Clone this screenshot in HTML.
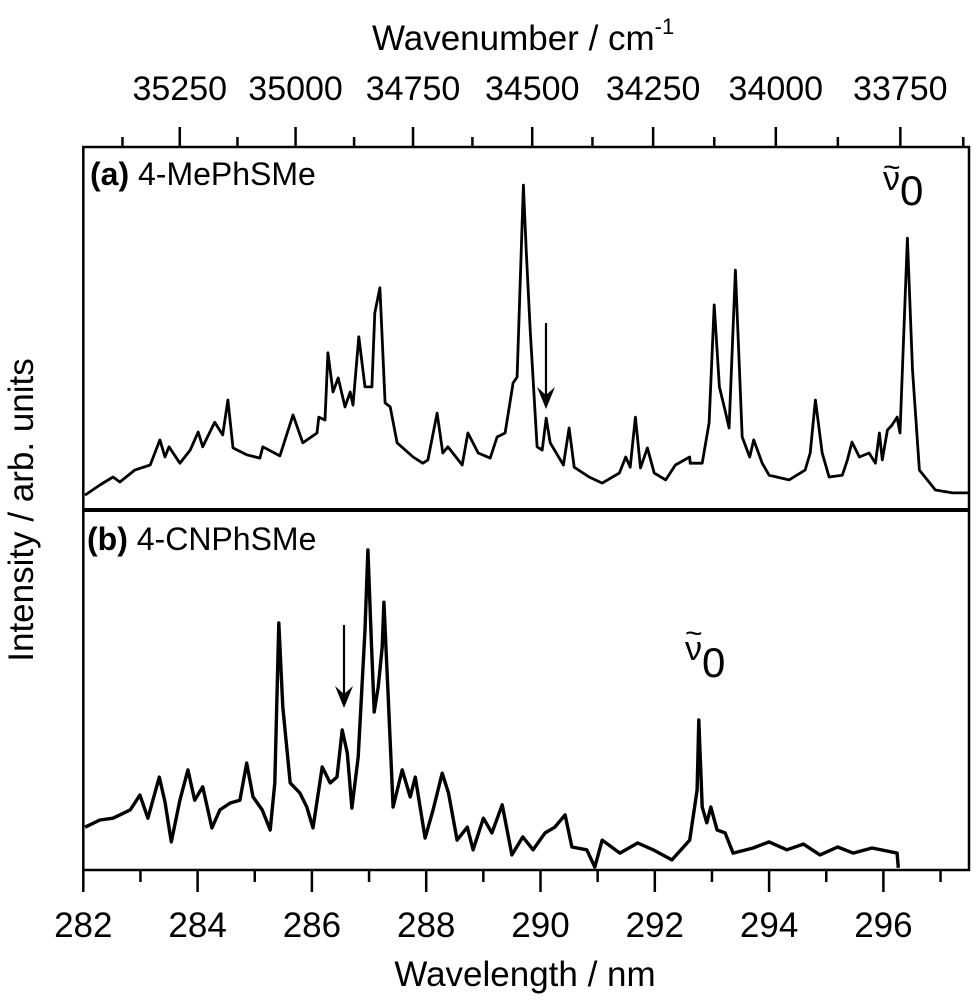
<!DOCTYPE html>
<html><head><meta charset="utf-8"><style>
html,body{margin:0;padding:0;background:#fff;}
svg{display:block;font-family:"Liberation Sans",Arial,sans-serif;}
</style></head><body>
<svg id="chart" width="974" height="1002" viewBox="0 0 974 1002" xmlns="http://www.w3.org/2000/svg">
<g id="axes"></g>
<g id="series"></g>
<text x="372" y="50" font-size="35">Wavenumber / cm<tspan font-size="22" dy="-16">-1</tspan></text>
<text x="525" y="986" font-size="35" text-anchor="middle">Wavelength / nm</text>
<text transform="translate(33,510) rotate(-90)" font-size="35" text-anchor="middle">Intensity / arb. units</text>
<text x="90" y="185" font-size="32"><tspan font-weight="bold">(a)</tspan> 4-MePhSMe</text>
<text x="87" y="550" font-size="32"><tspan font-weight="bold">(b)</tspan> 4-CNPhSMe</text>
<g>
<text x="883" y="177" font-size="30">~</text><text x="883" y="190" font-size="34">ν</text><text x="900" y="205" font-size="42">0</text>
</g>
<g>
<text x="685" y="643" font-size="30">~</text><text x="685" y="660" font-size="34">ν</text><text x="702" y="677" font-size="42">0</text>
</g>
</svg>
<script>
// bottom axis data
const xTicksMajor = [282,284,286,288,290,292,294,296];
const xTicksMinor = [283,285,287,289,291,293,295,297];
const wnTicksMajor = [35250,35000,34750,34500,34250,34000,33750];
const wnTicksMinor = [35375,35125,34875,34625,34375,34125,33875,33625];
// panel (a) 4-MePhSMe
const aWave = [282.03,282.29,282.52,282.64,282.90,283.17,283.34,283.43,283.50,283.69,283.87,284.01,284.09,284.30,284.44,284.53,284.62,284.86,285.09,285.14,285.44,285.67,285.84,286.09,286.12,286.23,286.28,286.37,286.46,286.58,286.67,286.72,286.82,286.93,287.05,287.10,287.19,287.28,287.37,287.49,287.77,287.94,288.03,288.19,288.29,288.38,288.63,288.73,288.91,289.12,289.24,289.38,289.52,289.59,289.70,289.75,289.82,289.94,290.03,290.10,290.17,290.40,290.50,290.59,290.85,291.08,291.38,291.49,291.57,291.66,291.75,291.87,291.99,292.19,292.36,292.61,292.62,292.83,292.95,293.04,293.13,293.22,293.30,293.41,293.53,293.66,293.73,293.88,294.00,294.35,294.63,294.72,294.81,294.93,295.05,295.28,295.37,295.45,295.58,295.75,295.86,295.93,295.98,296.07,296.15,296.24,296.29,296.42,296.51,296.63,296.91,297.21,297.50];
const aInt = [4.1,6.9,9.1,7.7,11.0,12.4,19.3,14.6,17.4,12.9,16.5,21.5,17.4,24.2,20.7,30.3,17.1,15.2,14.3,17.4,14.9,26.2,18.5,21.2,25.6,24.8,43.3,32.5,36.4,28.4,32.5,28.9,47.7,33.9,33.9,54.3,61.2,29.5,28.4,18.5,14.6,12.9,13.8,26.7,15.7,17.4,12.4,21.2,15.7,14.3,20.1,21.2,35.0,36.6,89.5,71.6,49.6,17.4,16.5,25.3,18.5,12.4,22.6,11.8,9.1,7.4,10.2,14.6,11.8,25.6,11.6,17.1,10.2,8.3,12.4,14.6,12.9,12.9,24.0,56.5,33.9,28.1,22.6,66.1,20.1,14.6,19.3,12.9,9.6,8.3,11.0,15.7,30.3,15.7,9.1,9.6,13.8,18.7,14.6,15.7,12.9,21.2,13.8,22.0,23.4,25.6,21.2,74.9,38.6,11.0,5.5,4.7,4.7];
// panel (b) 4-CNPhSMe
const bWave = [282.03,282.29,282.52,282.82,282.99,283.13,283.33,283.43,283.54,283.69,283.83,283.95,284.09,284.25,284.39,284.57,284.74,284.86,284.97,285.13,285.27,285.35,285.42,285.49,285.62,285.79,285.91,286.02,286.18,286.32,286.44,286.53,286.62,286.70,286.81,286.93,286.98,287.04,287.09,287.16,287.23,287.26,287.33,287.42,287.58,287.72,287.81,287.98,288.12,288.28,288.39,288.54,288.72,288.82,289.00,289.15,289.33,289.50,289.69,289.87,289.99,290.08,290.25,290.43,290.55,290.81,290.95,291.08,291.39,291.70,291.97,292.30,292.61,292.74,292.77,292.83,292.91,292.98,293.09,293.23,293.37,293.72,294.00,294.31,294.60,294.89,295.20,295.47,295.80,296.24,296.26];
const bInt = [11.9,13.9,14.4,16.7,20.8,14.4,25.8,18.9,7.8,19.4,27.8,19.4,23.1,11.7,16.7,18.6,19.4,29.7,20.3,16.7,11.1,24.2,68.6,45.3,24.2,21.4,17.5,11.7,28.6,24.2,25.8,38.9,32.5,17.2,31.4,66.7,88.9,63.9,43.9,50.8,61.9,74.4,50.0,17.5,27.8,20.3,25.8,8.9,16.7,26.9,21.4,8.3,11.9,5.6,14.4,10.3,18.1,4.2,9.2,5.6,8.3,10.3,11.9,15.3,6.4,5.6,0.8,8.3,4.7,7.5,5.6,2.8,8.3,22.2,41.7,17.5,13.1,17.5,11.1,10.3,4.7,6.1,7.8,5.6,7.2,4.2,6.4,4.7,6.1,4.7,0.6];

const NS='http://www.w3.org/2000/svg';
const X0=83.3, PX=57.15;
function xs(nm){return X0+(nm-282)*PX;}
function yA(v){return 510-v*3.63;}
function yB(v){return 870-v*3.6;}
function mk(tag,attrs,parent){const e=document.createElementNS(NS,tag);for(const k in attrs)e.setAttribute(k,attrs[k]);parent.appendChild(e);return e;}
const axes=document.getElementById('axes');
const series=document.getElementById('series');

let fr=mk('rect',{x:83.3,y:147,width:885.7,height:723,fill:'none',stroke:'#000','stroke-width':2.5},axes);


let dv=mk('line',{x1:83.3,x2:969,y1:510,y2:510,stroke:'#000','stroke-width':4},axes);



xTicksMajor.forEach(v=>{
  const t=mk('line',{x1:xs(v),x2:xs(v),y1:870,y2:892,stroke:'#000','stroke-width':2.5},axes);
  
  
  const l=mk('text',{x:xs(v),y:937,'font-size':35,'text-anchor':'middle'},axes);
  l.textContent=v;
  
  
});
xTicksMinor.forEach(v=>{
  const t=mk('line',{x1:xs(v),x2:xs(v),y1:870,y2:882,stroke:'#000','stroke-width':2.5},axes);
  
  
});
wnTicksMajor.forEach(v=>{
  const x=xs(1e7/v);
  const t=mk('line',{x1:x,x2:x,y1:147,y2:127,stroke:'#000','stroke-width':2.5},axes);
  
  
  const l=mk('text',{x:x,y:100,'font-size':34,'text-anchor':'middle'},axes);
  l.textContent=v;
  
  
});
wnTicksMinor.forEach(v=>{
  const x=xs(1e7/v);
  const t=mk('line',{x1:x,x2:x,y1:147,y2:137,stroke:'#000','stroke-width':2.5},axes);
  
  
});

let pa=mk('polyline',{points:aWave.map((w,i)=>xs(w).toFixed(1)+','+yA(aInt[i]).toFixed(1)).join(' '),fill:'none',stroke:'#000','stroke-width':2.8,'stroke-linejoin':'round'},series);


let pb=mk('polyline',{points:bWave.map((w,i)=>xs(w).toFixed(1)+','+yB(bInt[i]).toFixed(1)).join(' '),fill:'none',stroke:'#000','stroke-width':3.4,'stroke-linejoin':'round'},series);



function arrow(x,y1,y2,name){
  const g=mk('g',{},series);
  
  
  mk('line',{x1:x,x2:x,y1:y1,y2:y2-12,stroke:'#000','stroke-width':2.2},g);
  mk('path',{d:`M${x-9},${y2-22} L${x},${y2} L${x+9},${y2-22} L${x},${y2-14} Z`,fill:'#000'},g);
}
arrow(546,323,409,'arrow-a');
arrow(344,625,708,'arrow-b');
</script>
</body></html>
